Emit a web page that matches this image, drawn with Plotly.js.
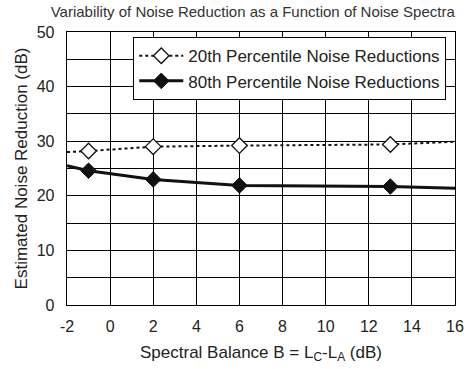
<!DOCTYPE html>
<html>
<head>
<meta charset="utf-8">
<script src="https://cdn.plot.ly/plotly-3.0.1.min.js"></script>
<style>html,body{margin:0;padding:0;background:#fff;}#chart{width:468px;height:369px;}</style>
</head>
<body>
<div id="chart"></div>
<script>
// Data
var xBalance = [-2, -1, 2, 6, 13, 16];
var p20 = [28.0, 28.2, 29.0, 29.2, 29.4, 29.9];
var p80 = [25.5, 24.6, 23.0, 21.9, 21.7, 21.4];
var seriesNames = ['20th Percentile Noise Reductions', '80th Percentile Noise Reductions'];
var xTicks = [-2, 0, 2, 4, 6, 8, 10, 12, 14, 16];
var yTicks = [0, 10, 20, 30, 40, 50];

function seg(arr, a, b) { return arr.slice(a, b); }

var dotLine = {color: '#111', width: 2, dash: 'dot'};
var solidLine = {color: '#111', width: 3};

var traces = [
  // 20th percentile: lead-in, marked middle, tail
  {x: seg(xBalance, 0, 2), y: seg(p20, 0, 2), mode: 'lines', line: dotLine, showlegend: false, hoverinfo: 'skip'},
  {x: seg(xBalance, 4, 6), y: seg(p20, 4, 6), mode: 'lines', line: dotLine, showlegend: false, hoverinfo: 'skip'},
  {x: seg(xBalance, 1, 5), y: seg(p20, 1, 5), mode: 'lines+markers', name: seriesNames[0], line: dotLine,
   marker: {symbol: 'diamond', size: 12, color: '#fff', line: {color: '#111', width: 1.3}}},
  // 80th percentile
  {x: seg(xBalance, 0, 2), y: seg(p80, 0, 2), mode: 'lines', line: solidLine, showlegend: false, hoverinfo: 'skip'},
  {x: seg(xBalance, 4, 6), y: seg(p80, 4, 6), mode: 'lines', line: solidLine, showlegend: false, hoverinfo: 'skip'},
  {x: seg(xBalance, 1, 5), y: seg(p80, 1, 5), mode: 'lines+markers', name: seriesNames[1], line: solidLine,
   marker: {symbol: 'diamond', size: 12, color: '#111', line: {color: '#111', width: 1}}}
];

var layout = {
  width: 468, height: 369,
  margin: {l: 67, r: 13, t: 32, b: 64},
  paper_bgcolor: '#fff', plot_bgcolor: '#fff',
  font: {family: 'Liberation Sans, Arial, sans-serif', color: '#222', size: 16},
  title: {text: 'Variability of Noise Reduction as a Function of Noise Spectra',
          font: {size: 15, color: '#333'}, x: 0.54, xanchor: 'center', y: 0.968, yanchor: 'middle'},
  xaxis: {
    range: [-2, 16], tickvals: xTicks, ticktext: xTicks.map(String),
    showgrid: true, gridcolor: '#000', gridwidth: 1,
    showline: true, linecolor: '#000', linewidth: 1.3, mirror: true,
    zeroline: false, ticks: '', ticklabelstandoff: 6,
    tickfont: {size: 16, color: '#222'},
    title: {text: 'Spectral Balance B = L<sub>C</sub>-L<sub>A</sub> (dB)', font: {size: 17, color: '#222'}, standoff: 12}
  },
  yaxis: {
    range: [0, 50], tickvals: yTicks, ticktext: yTicks.map(String),
    showgrid: true, gridcolor: '#000', gridwidth: 1,
    minor: {dtick: 5, showgrid: true, gridcolor: '#000', gridwidth: 1, ticks: ''},
    showline: true, linecolor: '#000', linewidth: 1.3, mirror: true,
    zeroline: false, ticks: '', ticklabelstandoff: 8,
    tickfont: {size: 16, color: '#222'},
    title: {text: 'Estimated Noise Reduction (dB)', font: {size: 17, color: '#222'}, standoff: 4}
  },
  legend: {
    x: 0.17, xanchor: 'left', y: 0.982, yanchor: 'top',
    bgcolor: '#fff', bordercolor: '#000', borderwidth: 1.3,
    font: {size: 17, color: '#222'}, tracegroupgap: 0,
    itemwidth: 44
  },
  showlegend: true
};

Plotly.newPlot('chart', traces, layout, {displayModeBar: false, staticPlot: true});
</script>
</body>
</html>
